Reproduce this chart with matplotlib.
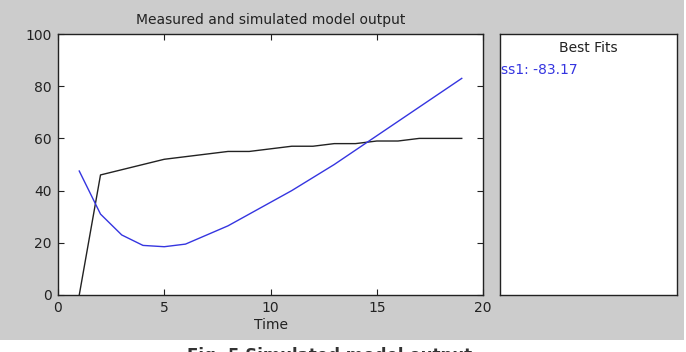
import matplotlib
matplotlib.use('Agg')
import matplotlib.pyplot as plt
from matplotlib.patches import Rectangle

# data
t = list(range(1, 20))
measured = [0, 46, 48, 50, 52, 53, 54, 55, 55, 56, 57, 57, 58, 58, 59, 59, 60, 60, 60]
simulated = [47.5, 31, 23, 19, 18.5, 19.5, 23, 26.5, 31, 35.5, 40, 45, 50, 55.5, 61, 66.5, 72, 77.5, 83]
fit_label = 'ss1: -83.17'

plt.rcParams['font.family'] = ['DejaVu Sans']
txt = '#222222'

fig = plt.figure(figsize=(6.86, 3.52), dpi=100, facecolor='white')
fig.patches.append(Rectangle((0, 12/352), 684/686, 1 - 12/352, transform=fig.transFigure,
                             facecolor='#cccccc', edgecolor='none', zorder=-10))

ax1 = fig.add_axes([58/686, 57/352, 425/686, 261/352])
ax1.plot(t, measured, color='#222222', linewidth=1)
ax1.plot(t, simulated, color='#3535e0', linewidth=1)
ax1.set_xlim(0, 20)
ax1.set_ylim(0, 100)
ax1.set_xticks([0, 5, 10, 15, 20])
ax1.set_yticks([0, 20, 40, 60, 80, 100])
ax1.tick_params(direction='in', top=True, right=True, length=4, labelsize=10,
                colors=txt, width=0.8, pad=4.5)
ax1.set_title('Measured and simulated model output', fontsize=10, color=txt, pad=7)
ax1.set_xlabel('Time', fontsize=10, color=txt, labelpad=2)
for s in ax1.spines.values():
    s.set_linewidth(1)
    s.set_color('#222222')

ax2 = fig.add_axes([500/686, 57/352, 177/686, 261/352])
ax2.set_xticks([])
ax2.set_yticks([])
ax2.text(0.5, 0.945, 'Best Fits', transform=ax2.transAxes, color=txt, fontsize=10,
         ha='center', va='center')
ax2.text(0.005, 0.863, fit_label, transform=ax2.transAxes, color='#3535e0', fontsize=10,
         va='center', ha='left')
for s in ax2.spines.values():
    s.set_linewidth(1)
    s.set_color('#222222')

# caption below the grey panel, cut by the image edge as in the original
fig.text(330/686, 5/352, 'Fig. 5 Simulated model output', fontsize=12, fontweight='bold',
         color='#333333', ha='center', va='top')

fig.savefig('out.png', dpi=100, facecolor=fig.get_facecolor())
